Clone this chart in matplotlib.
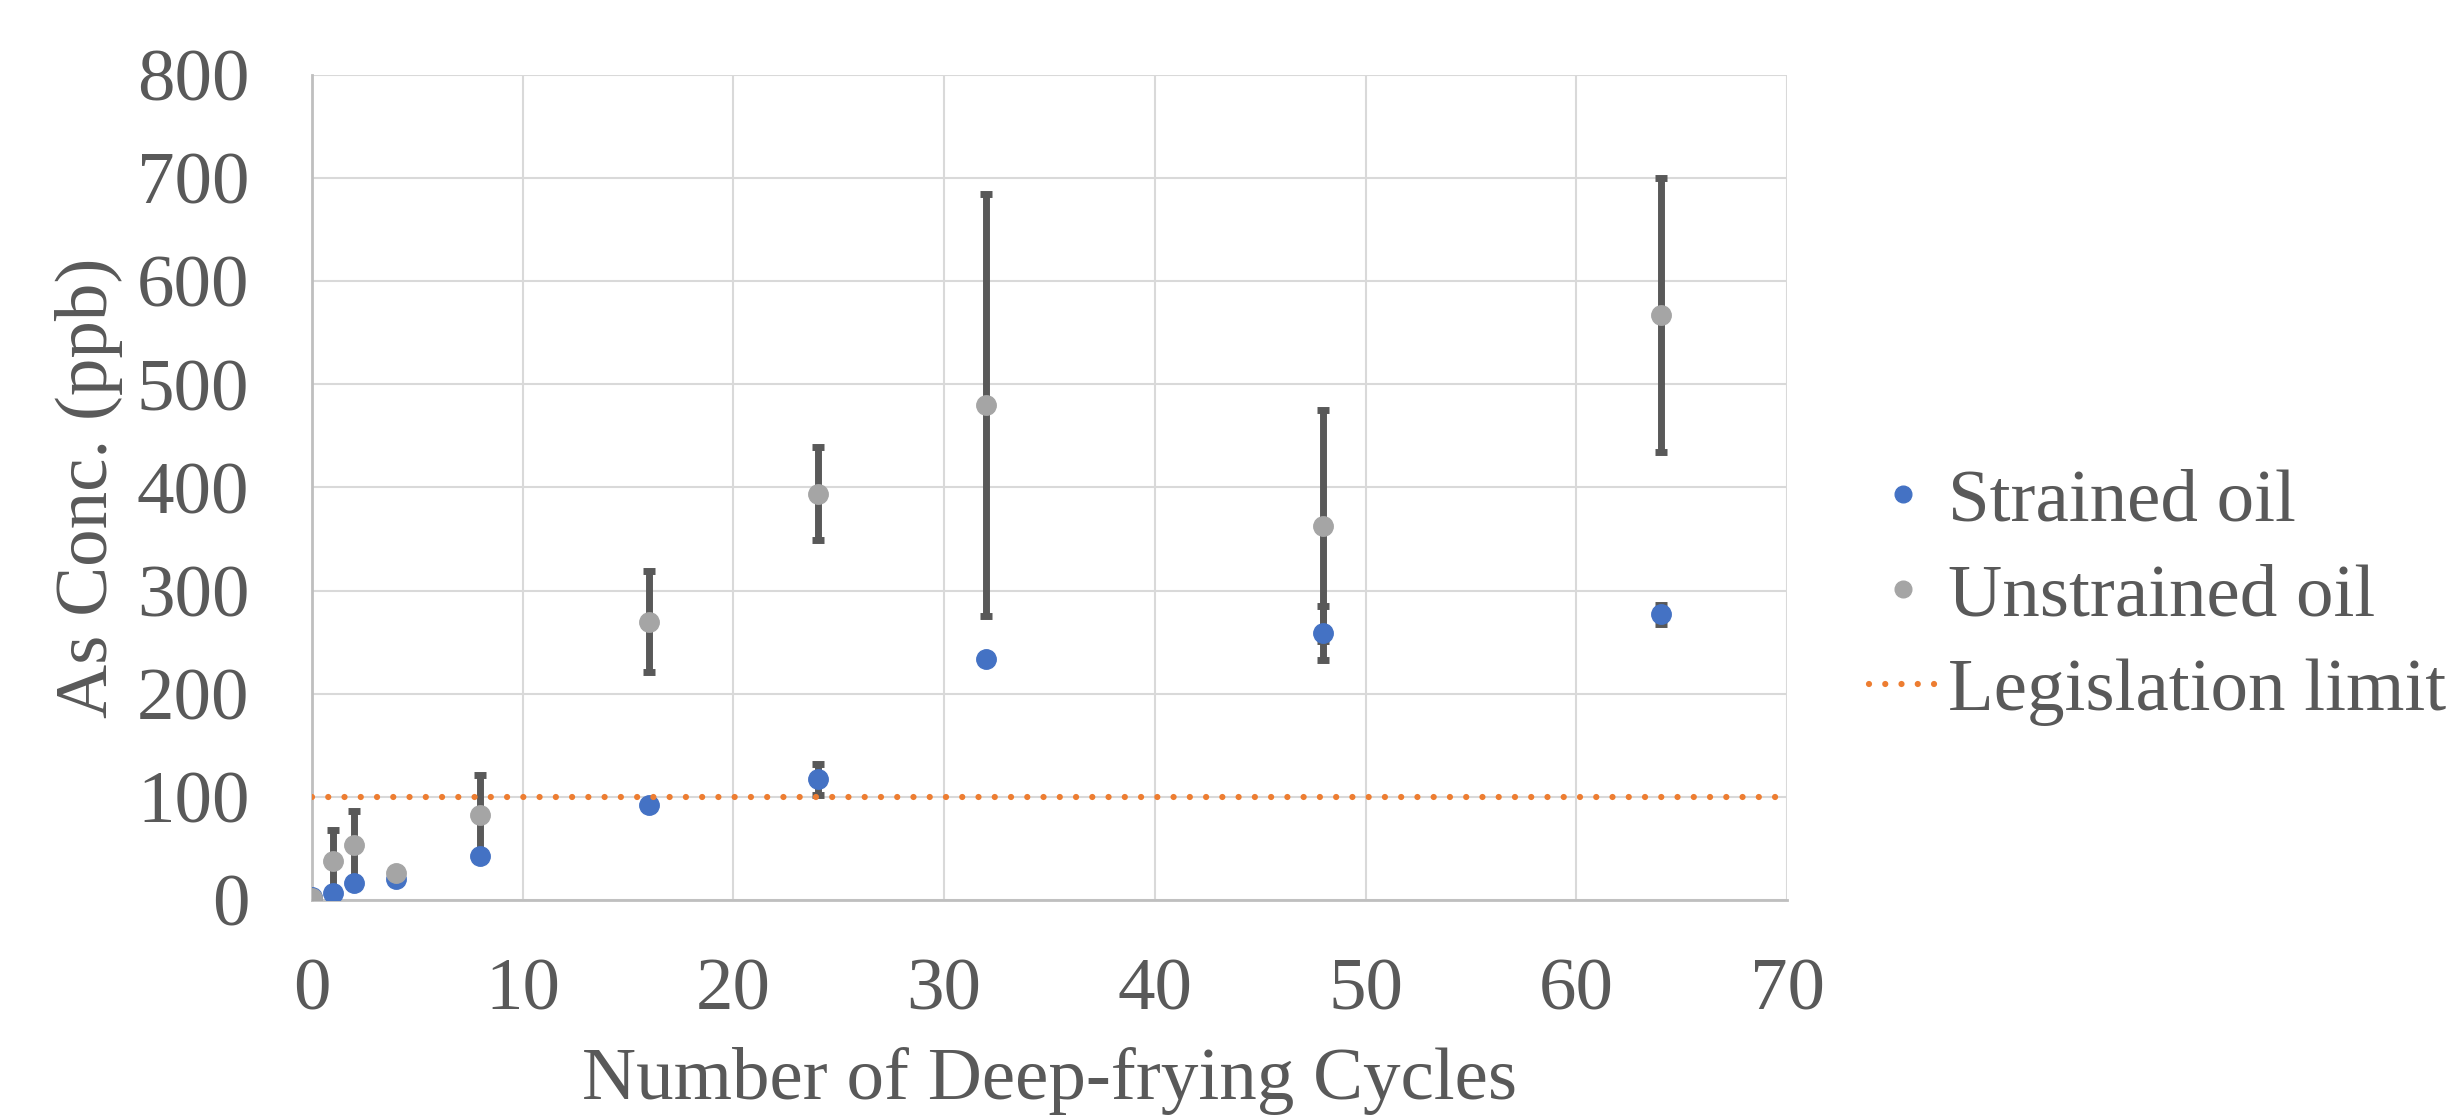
import matplotlib
matplotlib.use('Agg')
import matplotlib.pyplot as plt
from matplotlib.lines import Line2D

# data
cycles = [0, 1, 2, 4, 8, 16, 24, 32, 48, 64]
strained = [3, 7, 16, 20, 43, 92, 117, 234, 259, 277]
strained_err = [1, 2, 3, 3, 3, 3, 15, 4, 26, 9]
unstrained = [2, 38, 53, 26, 82, 270, 394, 480, 363, 567]
unstrained_err = [1, 30, 33, 3, 39, 49, 45, 205, 112, 133]
legislation_limit = 100

txt = '#595959'
dotted = (0, (0.001, 2.6))
plt.rcParams['font.family'] = ['Liberation Serif', 'DejaVu Serif']
plt.rcParams['font.size'] = 54

fig = plt.figure(figsize=(24.5, 11.18), dpi=100)
ax = fig.add_axes([0.1273, 0.195, 0.7294 - 0.1273, 0.933 - 0.195])

# error bars first, markers on top
ax.errorbar(cycles, strained, yerr=strained_err, fmt='none', ecolor=txt,
            elinewidth=5, capsize=4.5, capthick=5, zorder=2)
ax.errorbar(cycles, unstrained, yerr=unstrained_err, fmt='none', ecolor=txt,
            elinewidth=5, capsize=4.5, capthick=5, zorder=2)
ax.plot(cycles, strained, 'o', color='#4472c4', markersize=14, zorder=3)
ax.plot(cycles, unstrained, 'o', color='#a5a5a5', markersize=14, zorder=4)
ax.axhline(legislation_limit, color='#ed7d31', lw=4.5, linestyle=dotted,
           dash_capstyle='round', zorder=5)

ax.set_xlim(0, 70)
ax.set_ylim(0, 800)
ax.set_xticks(range(0, 71, 10))
ax.set_yticks(range(0, 801, 100))
ax.grid(True, color='#d9d9d9', lw=1.5)
ax.set_axisbelow(True)
for s in ['top', 'right']:
    ax.spines[s].set_visible(False)
for s in ['left', 'bottom']:
    ax.spines[s].set_color('#bfbfbf')
    ax.spines[s].set_linewidth(2)
ax.tick_params(length=0, colors=txt, labelsize=54)
ax.tick_params(axis='x', pad=42)
ax.tick_params(axis='y', pad=45)

ax.set_xlabel('Number of Deep-frying Cycles', color=txt, fontsize=54, labelpad=15)
ax.set_ylabel('As Conc. (ppb)', color=txt, fontsize=54, labelpad=10)

handles = [
    Line2D([], [], marker='o', ls='none', color='#4472c4', markersize=12),
    Line2D([], [], marker='o', ls='none', color='#a5a5a5', markersize=12),
    Line2D([], [], color='#ed7d31', lw=4.5, linestyle=dotted, dash_capstyle='round'),
]
leg = fig.legend(handles, ['Strained oil', 'Unstrained oil', 'Legislation limit'],
                 loc='center left', bbox_to_anchor=(0.763, 0.466), frameon=False,
                 fontsize=54, handlelength=0.9, handletextpad=0.15, labelspacing=0.35,
                 borderpad=0, borderaxespad=0)
for t in leg.get_texts():
    t.set_color(txt)

fig.savefig('out.png', dpi=100)
